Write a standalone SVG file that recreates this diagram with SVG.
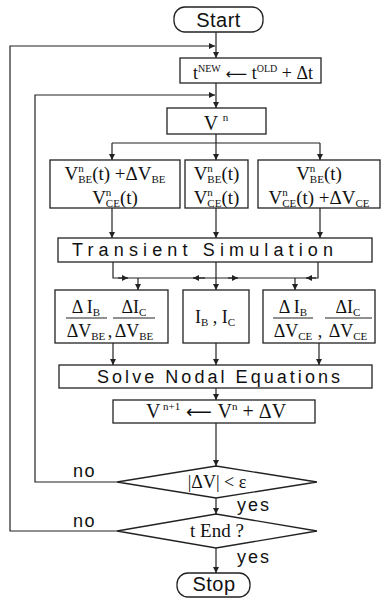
<svg xmlns="http://www.w3.org/2000/svg" width="382" height="600" viewBox="0 0 382 600">
<defs>
<style>
.box{fill:#fff;stroke:#222;stroke-width:1.3}
.ln{fill:none;stroke:#222;stroke-width:1.2}
.w{font-family:'Liberation Sans',Arial,sans-serif;fill:#111}
.m{font-family:'Liberation Serif','Times New Roman',serif;fill:#111}
.ar{font-family:'DejaVu Sans',sans-serif}
.s{font-size:11px}
.bar{stroke:#222;stroke-width:1.2}
</style>
<marker id="a" viewBox="0 0 8 8" refX="8" refY="4" markerWidth="6" markerHeight="6" markerUnits="userSpaceOnUse" orient="auto">
<path d="M0,0 L8,4 L0,8 z" fill="#222"/>
</marker>
</defs>
<rect width="382" height="600" fill="#fff"/>

<g id="connectors">
<path class="ln" d="M216,32 V58" marker-end="url(#a)"/>
<path class="ln" d="M216,83 V108" marker-end="url(#a)"/>
<path class="ln" d="M216,134 V143 M112,143 H320"/>
<path class="ln" d="M112,143 V160" marker-end="url(#a)"/>
<path class="ln" d="M216,143 V160" marker-end="url(#a)"/>
<path class="ln" d="M320,143 V160" marker-end="url(#a)"/>
<path class="ln" d="M112,208 V238" marker-end="url(#a)"/>
<path class="ln" d="M216,208 V238" marker-end="url(#a)"/>
<path class="ln" d="M320,208 V238" marker-end="url(#a)"/>
<path class="ln" d="M113,262 V278 H318 V262"/>
<path class="ln" d="M216,262 V290" marker-end="url(#a)"/>
<path class="ln" d="M138,278 V290" marker-end="url(#a)"/>
<path class="ln" d="M295,278 V290" marker-end="url(#a)"/>
<path class="ln" d="M118,278 H128" marker-end="url(#a)"/>
<path class="ln" d="M205,278 H193" marker-end="url(#a)"/>
<path class="ln" d="M228,278 H238" marker-end="url(#a)"/>
<path class="ln" d="M316,278 H306" marker-end="url(#a)"/>
<path class="ln" d="M113,343 V365" marker-end="url(#a)"/>
<path class="ln" d="M216,343 V365" marker-end="url(#a)"/>
<path class="ln" d="M319,343 V365" marker-end="url(#a)"/>
<path class="ln" d="M216,388 V400" marker-end="url(#a)"/>
<path class="ln" d="M216,423 V466" marker-end="url(#a)"/>
<path class="ln" d="M216,498 V514" marker-end="url(#a)"/>
<path class="ln" d="M216,548 V573" marker-end="url(#a)"/>
<path class="ln" d="M117,482 H35 V95 H215" marker-end="url(#a)"/>
<path class="ln" d="M117,531 H10 V46 H215" marker-end="url(#a)"/>
<text class="w" x="73" y="477" font-size="18" letter-spacing="1.5">no</text>
<text class="w" x="73" y="527" font-size="18" letter-spacing="1.5">no</text>
<text class="w" x="237" y="511" font-size="18" letter-spacing="2">yes</text>
<text class="w" x="237" y="563" font-size="18" letter-spacing="2">yes</text>
</g>

<g id="start">
<rect class="box" x="174" y="7" width="89" height="25" rx="11"/>
<text class="w" x="218.5" y="27" font-size="20" text-anchor="middle" letter-spacing="0.5">Start</text>
</g>

<g id="time-step">
<rect class="box" x="180" y="58" width="141" height="25"/>
<text class="m" x="253" y="79" font-size="18" text-anchor="middle">t<tspan font-size="10" dy="-7">NEW</tspan><tspan class="ar" dy="7" font-size="15"> ⟵ </tspan>t<tspan font-size="10" dy="-7">OLD</tspan><tspan dy="7"> + Δt</tspan></text>
</g>

<g id="vn">
<rect class="box" x="167" y="108" width="99" height="26"/>
<text class="m" x="216" y="130" font-size="20" text-anchor="middle">V <tspan class="s" dy="-9">n</tspan></text>
</g>

<g id="case-be">
<rect class="box" x="50" y="160" width="130" height="48"/>
<text class="m" x="115" y="180" font-size="19" text-anchor="middle">V<tspan class="s" dy="-8">n</tspan><tspan class="s" dx="-5.5" dy="10.5">BE</tspan><tspan dy="-2.5">(t) +ΔV</tspan><tspan class="s" dy="2.5">BE</tspan></text>
<text class="m" x="115" y="204" font-size="19" text-anchor="middle">V<tspan class="s" dy="-8">n</tspan><tspan class="s" dx="-5.5" dy="10.5">CE</tspan><tspan dy="-2.5">(t)</tspan></text>
</g>

<g id="case-base">
<rect class="box" x="185" y="160" width="63" height="48"/>
<text class="m" x="216.5" y="180" font-size="19" text-anchor="middle">V<tspan class="s" dy="-8">n</tspan><tspan class="s" dx="-5.5" dy="10.5">BE</tspan><tspan dy="-2.5">(t)</tspan></text>
<text class="m" x="216.5" y="204" font-size="19" text-anchor="middle">V<tspan class="s" dy="-8">n</tspan><tspan class="s" dx="-5.5" dy="10.5">CE</tspan><tspan dy="-2.5">(t)</tspan></text>
</g>

<g id="case-ce">
<rect class="box" x="258" y="160" width="122" height="48"/>
<text class="m" x="319" y="180" font-size="19" text-anchor="middle">V<tspan class="s" dy="-8">n</tspan><tspan class="s" dx="-5.5" dy="10.5">BE</tspan><tspan dy="-2.5">(t)</tspan></text>
<text class="m" x="319" y="204" font-size="19" text-anchor="middle">V<tspan class="s" dy="-8">n</tspan><tspan class="s" dx="-5.5" dy="10.5">CE</tspan><tspan dy="-2.5">(t) +ΔV</tspan><tspan class="s" dy="2.5">CE</tspan></text>
</g>

<g id="transient">
<rect class="box" x="58" y="238" width="314" height="24"/>
<text class="w" x="72" y="256" font-size="18" textLength="261" lengthAdjust="spacing">Transient Simulation</text>
</g>

<g id="deriv-be">
<rect class="box" x="55" y="290" width="113" height="53"/>
<text class="m" x="86" y="313" font-size="18" text-anchor="middle">Δ I<tspan font-size="11" dy="3">B</tspan></text>
<line class="bar" x1="66" y1="318" x2="107" y2="318"/>
<text class="m" x="86" y="337" font-size="18" text-anchor="middle">ΔV<tspan font-size="11" dy="3">BE</tspan></text>
<text class="m" x="110" y="337" font-size="18" text-anchor="middle">,</text>
<text class="m" x="134" y="313" font-size="18" text-anchor="middle">ΔI<tspan font-size="11" dy="3">C</tspan></text>
<line class="bar" x1="113" y1="318" x2="155" y2="318"/>
<text class="m" x="134" y="337" font-size="18" text-anchor="middle">ΔV<tspan font-size="11" dy="3">BE</tspan></text>
</g>

<g id="currents">
<rect class="box" x="183" y="290" width="66" height="53"/>
<text class="m" x="215" y="323" font-size="18" text-anchor="middle">I<tspan font-size="11" dy="3">B</tspan><tspan dy="-3"> , I</tspan><tspan font-size="11" dy="3">C</tspan></text>
</g>

<g id="deriv-ce">
<rect class="box" x="263" y="290" width="112" height="53"/>
<text class="m" x="293" y="313" font-size="18" text-anchor="middle">Δ I<tspan font-size="11" dy="3">B</tspan></text>
<line class="bar" x1="273" y1="318" x2="313" y2="318"/>
<text class="m" x="293" y="337" font-size="18" text-anchor="middle">ΔV<tspan font-size="11" dy="3">CE</tspan></text>
<text class="m" x="320" y="337" font-size="18" text-anchor="middle">,</text>
<text class="m" x="348" y="313" font-size="18" text-anchor="middle">ΔI<tspan font-size="11" dy="3">C</tspan></text>
<line class="bar" x1="325" y1="318" x2="372" y2="318"/>
<text class="m" x="348" y="337" font-size="18" text-anchor="middle">ΔV<tspan font-size="11" dy="3">CE</tspan></text>
</g>

<g id="solve">
<rect class="box" x="59" y="365" width="313" height="23"/>
<text class="w" x="97" y="383" font-size="18" textLength="243" lengthAdjust="spacing">Solve Nodal Equations</text>
</g>

<g id="update">
<rect class="box" x="113" y="400" width="202" height="23"/>
<text class="m" x="216" y="418" font-size="20" text-anchor="middle">V<tspan class="s" dy="-8"> n+1</tspan><tspan class="ar" dy="8" font-size="18"> ⟵ </tspan>V<tspan class="s" dy="-8">n</tspan><tspan dy="8"> + ΔV</tspan></text>
</g>

<g id="converged">
<polygon class="box" points="216,466 317,482 216,498 117,482"/>
<text class="m" x="217" y="488" font-size="18" text-anchor="middle">|ΔV| &lt; ε</text>
</g>

<g id="t-end">
<polygon class="box" points="216,514 317,531 216,548 117,531"/>
<text class="m" x="217" y="537" font-size="19" text-anchor="middle">t End ?</text>
</g>

<g id="stop">
<rect class="box" x="177" y="573" width="73" height="24" rx="11"/>
<text class="w" x="214" y="591" font-size="20" text-anchor="middle" letter-spacing="0.5">Stop</text>
</g>
</svg>
